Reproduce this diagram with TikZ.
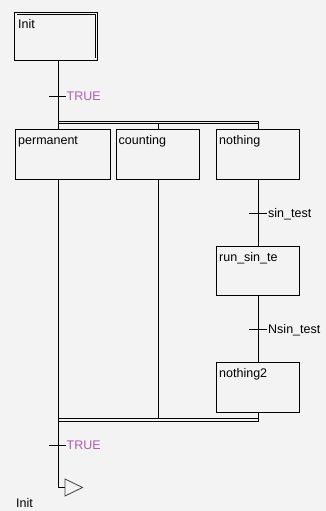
\documentclass[tikz,border=0pt]{standalone}
\usepackage{fontspec}
\setmainfont{Liberation Sans}
\definecolor{bg}{RGB}{243,243,243}
\definecolor{truec}{RGB}{175,95,175}
\tikzset{
  stepbox/.style={draw=black, line width=0.9pt, minimum height=50pt, inner sep=0pt, fill=bg},
  ln/.style={line width=0.9pt, draw=black},
  lbl/.style={anchor=base west, inner sep=0pt, font=\fontsize{12.5}{14}\selectfont},
  truelbl/.style={lbl, text=truec},
}
\begin{document}
\begin{tikzpicture}[x=1pt,y=-1pt]
\fill[bg] (0,0) rectangle (326,511);
\useasboundingbox (0,0) rectangle (326,511);

% columns and bars
\coordinate (c1) at (58,0);
\coordinate (c2) at (158,0);
\coordinate (c3) at (258,0);
\coordinate (ta) at (58,121);
\coordinate (tb) at (58,123.5);
\coordinate (ba) at (58,418);
\coordinate (bb) at (58,421.5);
\coordinate (t1) at (58,96);
\coordinate (t2) at (258,213);
\coordinate (t3) at (258,329);
\coordinate (t4) at (58,445);
\coordinate (jump) at (65,487.5);

% steps
\node[stepbox, double=bg, double distance=1.6pt, line width=0.9pt, minimum width=80.6pt, minimum height=45.6pt] (init) at (56,36.5) {};
\node[stepbox, minimum width=95pt] (perm) at (62.5,154) {};
\node[stepbox, minimum width=83pt] (count) at (157.5,154) {};
\node[stepbox, minimum width=83pt] (noth) at (257.5,154) {};
\node[stepbox, minimum width=83pt, minimum height=49pt] (run) at (257.5,270.5) {};
\node[stepbox, minimum width=83pt] (n2) at (257.5,387) {};

% step texts
\node[lbl] (tinit) at (18,28.3) {Init};
\node[lbl] (tperm) at (18,144.3) {permanent};
\node[lbl] (tcount) at (118.5,144.3) {counting};
\node[lbl] (tnoth) at (219,144.3) {nothing};
\node[lbl] (trun) at (219,261) {run\_sin\_te};
\node[lbl] (tn2) at (219,377.3) {nothing2};

% connectors
\draw[ln] (init.south -| c1) -- (perm.north -| c1);
\draw[ln] (ta) -- (ta -| c3);
\draw[ln] (tb) -- (tb -| c3);
\draw[ln] (tb -| c2) -- (count.north -| c2);
\draw[ln] (ta -| c3) -- (noth.north -| c3);

\draw[ln] (perm.south -| c1) -- (c1 |- jump) -- (jump);
\draw[ln] (count.south -| c2) -- (ba -| c2);
\draw[ln] (noth.south -| c3) -- (run.north -| c3);
\draw[ln] (run.south -| c3) -- (n2.north -| c3);
\draw[ln] (n2.south -| c3) -- (bb -| c3);
\draw[ln] (ba) -- (ba -| c3);
\draw[ln] (bb) -- (bb -| c3);

% transitions
\draw[ln] ([xshift=-9pt]t1) -- ([xshift=8pt]t1);
\draw[ln] ([xshift=-9pt]t2) -- ([xshift=9pt]t2);
\draw[ln] ([xshift=-9pt]t3) -- ([xshift=9pt]t3);
\draw[ln] ([xshift=-9pt]t4) -- ([xshift=8pt]t4);
\node[truelbl] (l1) at (66.5,100) {TRUE};
\node[lbl] (l2) at (268,217) {sin\_test};
\node[lbl] (l3) at (268,333.3) {Nsin\_test};
\node[truelbl] (l4) at (66.5,449.3) {TRUE};

% jump
\draw[line width=0.8pt, draw=black!75] (jump) -- (65,479) -- (82.5,487.5) -- (65,496) -- cycle;
\node[lbl] (tjump) at (16,507.5) {Init};
\end{tikzpicture}
\end{document}
